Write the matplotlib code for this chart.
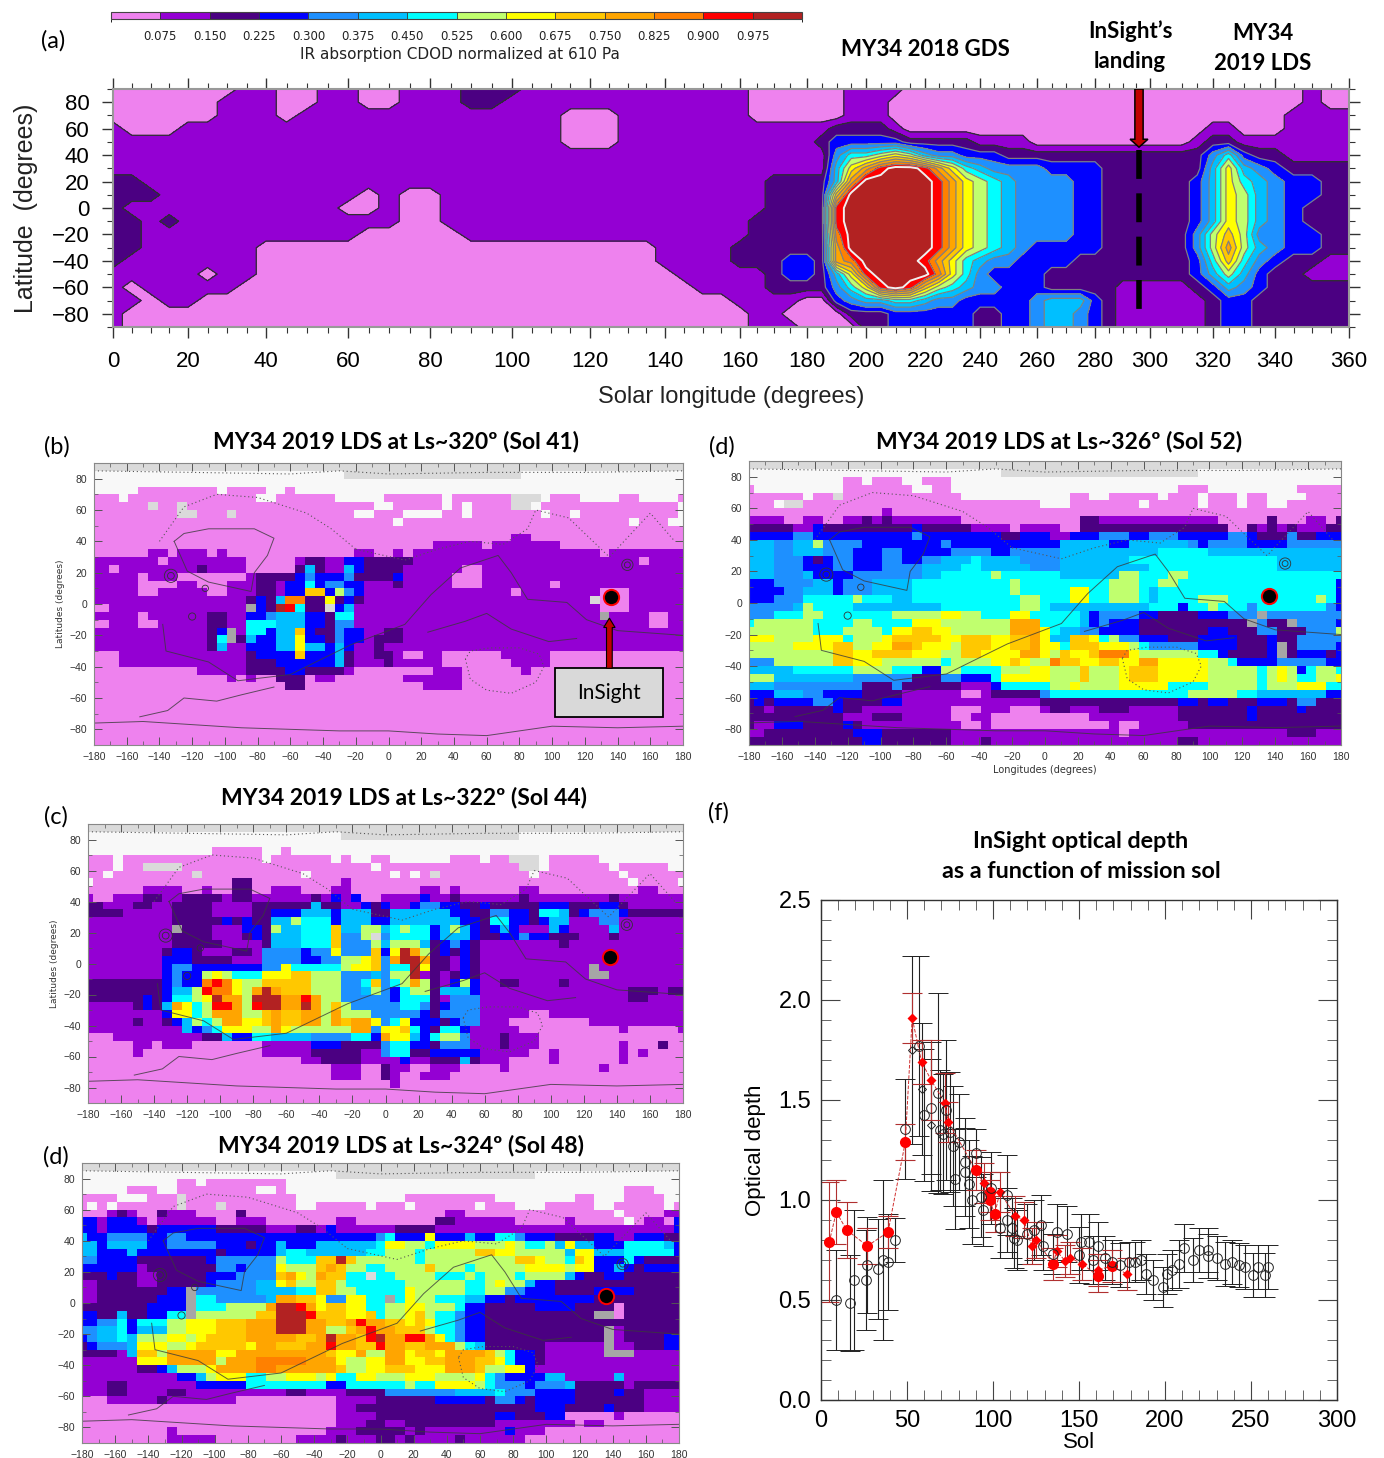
import numpy as np
import matplotlib
matplotlib.use("Agg")
import matplotlib.pyplot as plt
from matplotlib import colors, cm
from matplotlib.patches import Rectangle, FancyArrow

W, H = 1384, 1458

# colour of each dust level, lowest first, then the no data shades
level_colors = ['#EE82EE', '#9400D3', '#4B0082', '#0000FF', '#1E90FF', '#00BFFF', '#00FFFF',
                '#C0FF6E', '#FFFF00', '#FFC800', '#FFA500', '#FF8000', '#FF0000', '#B22222']
codes = '0123456789abcd.lg'
nodata_colors = ['#F8F8F8', '#DADADA', '#A6A6A6']
cdod_levels = np.arange(0, 1.0501, 0.075)

# tick positions of panel (a): the axis is not linear in Ls
ls_ticks = [0, 20, 40, 60, 80, 100, 120, 140, 160, 180, 200, 220, 240, 260, 280, 300, 320, 340, 360]
ls_tick_pos = [113, 188, 266, 348, 430, 512, 590, 665, 740, 807, 866, 925, 980, 1037, 1095, 1150, 1213, 1275, 1349]

# Zonal mean rows, 90N to 90S by 10 deg. Each token: level + index of first Ls bin (5 deg bins)
zonal_rows = [
    "00 17 09 111 013 115 218 121 033 139 043 170 071",
    "00 16 09 111 013 115 218 120 033 139 042 170 071",
    "00 16 09 110 023 126 033 139 042 169",
    "10 01 14 023 126 238 142 043 164 066 169",
    "10 023 126 237 338 341 243 148 052 163 264 166",
    "10 438 639 741 842 743 544 445 347 250 464 665 366 267 169",
    "10 538 839 a40 c41 d42 c44 a45 846 647 548 449 353 257 564 865 566 467 368 269",
    "20 12 234 538 a39 d40 c45 a46 847 748 649 550 451 355 257 363 564 865 666 567 468 369 271",
    "20 13 013 114 015 117 234 938 d39 c45 a46 847 748 649 550 451 355 257 363 564 865 766 567 468 369 370 271",
    "20 11 012 114 015 117 234 c38 d39 c45 a46 847 748 649 550 451 355 257 363 564 865 766 567 468 369 270",
    "20 12 23 14 015 117 233 c38 d39 c45 a46 847 748 649 550 451 355 257 363 564 865 766 567 468 369 270",
    "20 12 013 118 233 b38 d39 c45 a46 847 748 649 550 451 355 257 263 463 764 965 766 467 369 271",
    "20 12 08 128 232 a38 d39 c45 a46 847 748 649 550 451 352 355 257 463 764 a65 766 567 468 369 271",
    "20 11 08 128 232 335 237 a38 b39 d40 c44 a45 846 647 548 449 351 255 363 664 965 666 467 368 269 171",
    "10 05 16 08 129 234 335 237 538 839 c40 d41 b45 846 647 448 349 253 363 564 765 566 367 268 170",
    "10 01 12 07 130 234 438 639 840 c41 d42 c43 944 745 646 547 448 350 253 158 263 364 565 466 367 268",
    "10 02 13 05 132 036 338 439 540 642 544 445 347 452 553 356 257 158 264 365 267",
    "10 01 133 035 239 342 248 350 452 553 455 356 257 158 264 365 267",
    "10 01 133 036 240 342 248 350 452 553 455 356 257 158 264 365 267",
]

# Maps: 36 rows from 90N, 5 deg each. Token: level + index of first cell, cells 6 deg wide from 180W
map_sol41 = [
    "l0", ".0 l26 .44", ".0",
    ".0 05 .13 014 .18 020 .21",
    "00 .3 04 .17 019 .25 030 .36 037 l43 .46 047 .50 054 .56 060",
    "00 l6 07 l9 010 .29 031 .36 037 .38 039 l43 .45 046 .60",
    "00 l9 011 l14 015 .27 029 .32 036 .38 039 .46 047 .49 050 .60",
    "00 .31 032 .55 056 .59", "00",
    "00 143 045",
    "00 135 040 141 048",
    "00 16 08 19 012 113 014 127 029 131 032 133 052 153",
    "10 07 18 016 121 222 124 326 228 133 056 157",
    "10 02 13 211 112 016 221 522 223 124 526 327 228 132 038 140",
    "10 05 16 09 011 116 217 321 422 323 426 227 331 132 037 140",
    "10 05 07 19 011 012 114 217 119 320 622 323 424 326 128 231 132 037 140 047 148",
    "10 05 17 012 114 217 119 320 922 324 725 426 327 128 043 144 052 155",
    "10 216 317 218 519 b20 222 824 225 326 227 128 l51 052 155",
    "00 12 g16 317 218 d19 c20 621 222 l24 325 526 127 052 155",
    "10 05 16 212 114 316 418 519 322 224 625 127 g52 153 057 159",
    "00 12 05 17 212 114 616 519 322 224 425 127 057 159",
    "10 212 313 g14 115 616 318 519 921 322 223 425 326 128 230 132",
    "10 212 613 g14 215 516 317 519 821 322 224 425 326 128 229 132",
    "10 212 513 114 316 519 821 522 324 525 326 127 229 130",
    "00 13 216 317 921 322 525 226 127 229 131 032 134 036 142 047",
    "00 13 216 319 525 226 127 230 131 036 143 047",
    "00 111 216 320 222 126 027 135 038 144 045",
    "00 114 015 116 017 219 022 123 025 132 038",
    "00 220 022 134 038",
    "00", "00", "00", "00", "00", "00", "00",
]

map_sol44 = [
    "l0", ".0 l26 .44", ".0",
    ".0 013 .18 020 .21",
    "00 .3 04 .18 019 .25 026 .27 029 .31 037 .40 041 l43 .46 047 .52",
    "00 .3 04 l6 010 .29 030 l44 .46 047 .53 054 .59",
    "00 .2 03 l11 012 .22 023 .31 032 .33 034 l35 036 .45 046 .54 055",
    ".0 01 215 017 126 027 .55 056 .60",
    "00 16 010 112 013 215 017 119 022 125 027 134 036 137 038 144 046 156 058",
    "10 01 13 26 18 210 114 215 117 223 124 325 126 327 028 130 334 135 237 138 244 145 253 154",
    "20 12 25 17 29 113 217 523 224 126 328 229 330 131 333 434 336 238 340 241 346 249 352 254 155",
    "20 14 29 113 217 319 522 325 526 229 531 337 239 441 343 245 646 548 249 350 451 354 255",
    "10 29 314 215 316 217 519 721 622 325 526 329 531 338 240 641 343 245 346 547 149 452 154",
    "10 g9 210 113 316 218 719 520 622 925 526 728 530 631 732 633 335 536 737 538 339 240 341 542 343 144 547 348 149 553 154",
    "10 29 113 216 317 218 519 622 925 426 728 l29 430 631 335 536 339 240 342 444 345 247 150 253 154",
    "10 29 212 114 218 519 622 925 426 729 530 731 534 235 336 437 338 239 140 248 149",
    "10 28 39 211 112 215 117 418 322 423 825 426 929 330 831 d32 a33 734 235 336 237 338 239 140",
    "10 38 211 115 418 322 424 726 828 929 430 a31 d32 a34 235 137 338 239 140",
    "10 38 49 311 418 820 621 726 827 929 430 631 d33 834 235 137 338 239 140 g51 152",
    "10 38 49 310 712 813 714 615 818 921 723 426 529 430 731 d33 134 235 136 237 338 239 140 g51 153",
    "20 38 49 310 b12 c13 b14 815 716 918 723 426 628 929 430 631 732 a33 734 235 136 337 738 339 140 242 144 248 149",
    "20 38 59 711 c12 b13 815 716 a17 d18 a19 920 723 426 528 729 430 331 632 733 235 536 339 140 255 158 259",
    "20 36 27 38 69 711 812 d13 a14 716 d17 a20 c22 a23 724 426 331 632 235 136 437 140 255 157",
    "10 25 36 27 58 a9 810 611 712 c13 a15 716 c17 d18 a20 d22 a23 724 925 726 427 632 434 235 336 437 140",
    "10 38 89 611 712 a13 716 918 a19 920 a22 724 a25 726 429 334 235 436 140 045 147",
    "10 25 16 28 39 510 711 612 713 a14 816 918 a19 920 a22 724 a25 926 a27 829 430 631 832 333 236 337 438 140 043 151",
    "10 510 311 412 613 814 717 a19 820 721 a27 429 830 932 633 334 235 636 338 139 044 154 055 160",
    "00 13 212 514 315 617 519 423 627 329 a30 831 533 334 635 736 438 139 242 143 046",
    "00 15 07 18 011 118 323 226 228 430 631 333 235 436 438 139 242 143 046 154 055 258 059",
    "00 15 06 118 223 128 430 631 233 335 140 045 147 048 154 055 156 057",
    "00 122 224 128 332 133 235 538 239 140 043 147 048 154 055",
    "00 125 028 230 131 033 135 038 142 043 152 053",
    "00 125 028 230 131 032 134 037",
    "00 131 032", "00", "00",
]

map_sol48 = [
    "l0", ".0 l26 .46",
    ".0 010 .12 013 .21",
    ".0 05 .8 010 .18 020 .21 055 .58",
    "00 .4 07 l10 011 .22 033 .42 050 .52 055 .59",
    "00 .1 02 .3 04 l10 011 l14 015 .22 024 .29 030 .33 034 .40 041 .44 047 .52 054 .59 060",
    "00 13 24 15 06 28 19 012 216 017 137 039 .54 055 159",
    "30 12 33 16 07 18 014 116 019 126 028 236 138 044 149 050 .55 056 157 059 360",
    "30 12 33 27 38 214 119 222 124 325 126 232 136 360",
    "50 31 43 37 49 311 322 430 631 332 835 336 539 340 642 444 345 248 352 154 356 259",
    "50 32 53 37 49 314 217 318 520 321 524 630 831 733 635 836 740 843 744 645 747 548 849 550 352 655 559 360",
    "50 32 55 36 214 315 520 621 523 629 731 634 735 940 842 744 747 549 850 552 355 655 360",
    "40 32 26 313 414 720 621 924 d26 927 728 731 634 735 944 846 747 649 950 851 352 655 356 257",
    "30 16 27 414 316 417 820 721 924 a25 926 727 629 731 935 736 639 740 845 847 749 850 352 554 355 256 357",
    "20 33 24 16 28 313 416 920 a21 822 723 a24 925 627 l29 630 732 636 739 640 741 644 745 549 350 251 353 255",
    "10 22 16 28 313 414 518 820 921 722 924 726 627 733 639 741 842 743 545 346 248",
    "10 22 39 g11 412 518 622 924 726 628 833 734 639 741 443 345 248 352 256",
    "10 22 38 g11 612 414 519 a20 922 824 425 827 629 g31 632 833 734 636 539 341 243 344 252",
    "20 37 g11 612 715 519 a19 d20 c22 a23 824 925 827 629 731 833 735 638 339 241 346 250 054 255",
    "30 22 54 25 37 69 g11 712 918 d20 c23 924 827 929 630 731 833 934 735 636 438 339 241 g52 054 255",
    "30 42 64 35 66 79 811 914 a17 d20 a23 925 a27 c28 a29 931 833 934 835 636 438 339 241",
    "40 52 64 35 56 79 811 914 a17 d20 a23 725 927 a28 c29 a30 932 735 636 438 339 241 g53 154 255",
    "30 41 52 64 55 76 89 711 812 913 a17 922 a24 d25 a26 928 c29 d30 a31 c33 a35 836 637 438 339 241 g53 154 255 359",
    "20 31 42 55 86 79 811 912 817 a18 920 a23 c25 a26 928 c30 a31 933 a35 738 639 540 241 147 g53 154 256 359",
    "20 14 55 96 78 a9 814 a16 925 826 a28 729 a31 833 934 836 a37 941 742 643 344 246 147 g53 g54 156",
    "10 56 86 a9 714 a15 b18 a23 826 727 829 a31 833 935 a37 940 842 643 344 246 147",
    "10 26 38 59 710 813 a14 b18 a20 926 727 829 931 834 a37 940 741 843 345 146",
    "10 310 512 713 814 617 719 821 724 825 626 828 730 833 736 840 641 442 343 547 149 554 155",
    "10 23 15 312 617 325 627 733 634 836 740 641 442 345 446 549 250 254 155 256",
    "10 23 15 29 111 221 123 227 431 538 642 443 346 450 250 354 255 157",
    "00 13 28 19 016 126 230 336 241 442 344 245 346 250 157",
    "00 126 228 346 249 353 254 157",
    "00 126 230 342 244 347 049 154 055",
    "00 126 229 131 233 142 148 050 151 053",
    "00 19 010 125 228 330 230 133 234 135 142 343 144 047",
    "00 19 014 122 226 127 230 132 233 134 238 139 045",
]

map_sol52 = [
    "l0", ".0 l26 .46",
    ".0 010 .12 013 .16 018 .21",
    "00 .1 010 .17 019 .21 044 .47 056",
    "00 .6 07 l9 010 .22 033 .35 037 .42 043 .46 047 .50 051 .53 057",
    "00 .3 l4 06 .30 033 .40 041 .46 047 .50 051 .53 055",
    "00 114 015",
    "10 04 16 08 110 212 113 214 115 022 234 136 048 253 054 157 059 260",
    "20 15 37 28 317 218 123 027 128 032 234 049 251 152 253 154 255 156 259",
    "30 45 37 417 318 226 328 131 333 436 339 441 344 449 351 252 455 256 358",
    "50 43 55 77 48 312 420 321 532 337 539 445 346 447 351 455",
    "50 43 55 48 311 414 316 421 325 427 532 642 547",
    "50 43 36 27 38 49 311 414 316 418 520 623 524 428 532 639 554",
    "50 43 36 49 311 414 518 622 524 429 532 641 554",
    "50 43 56 37 411 518 620 725 626 532 738 640 743 645",
    "30 43 57 39 410 513 617 727 628 737 640 742 644 360",
    "30 44 56 39 410 513 617 727 628 833 635 737 640 541 642 360",
    "30 43 66 711 612 515 617 728 630 833 635 737 640 541 642 746 649 758 659 360",
    "40 55 76 67 511 620 728 630 531 641 344 645 747 648 451 652 459 360",
    "40 63 76 68 715 820 722 624 827 629 534 335 436 340 242 346 449 g52 453",
    "60 71 67 711 613 817 720 a27 630 534 335 436 337 240 g51 452 253 g55 456 360",
    "70 67 710 614 815 917 819 721 a27 830 631 532 434 336 240 347 249 452 254 457 760",
    "80 73 87 610 711 814 915 918 820 922 825 927 a29 830 531 933 835 636 737 438 340 243 346 450 250 353 254 456",
    "70 85 99 711 813 a15 917 818 721 922 825 927 a29 830 632 933 836 739 640 441 346 250 353 g54 255 456 360",
    "70 99 811 913 817 720 922 824 a28 830 731 932 833 935 b36 839 740 646 348 249 353 g54 255 356 259 360",
    "40 73 99 811 714 620 721 825 927 828 729 b31 932 834 936 838 a40 842 747 649 350 353 454 359",
    "50 65 711 615 318 720 622 726 829 731 934 735 838 939 842 747 652 753 854 755 356 657 758 660",
    "70 53 411 217 420 322 625 826 731 934 735 838 939 842 747 652 753 854 755 656 758 860",
    "50 43 212 415 216 122 325 626 731 833 734 838 643 747 652 753 856 659",
    "30 53 46 38 212 116 022 124 225 430 631 745 650 552 359",
    "20 31 22 33 47 39 210 314 116 230 344 246 347 249 352 255 456 258",
    "20 12 23 39 210 112 021 124 027 130 231 133 236 139 244 351 252 356 257",
    "20 110 213 116 021 123 025 135 244 351 252",
    "20 11 33 26 310 211 112 022 124 025 137 038 140 245",
    "10 22 311 214 121 038 139 255 158",
    "20 312 214 121 224 125 244 146",
]

# topography
alba_lon = [-131, -125, -110, -82, -70, -74, -82, -84, -110, -123, -131]
alba_lat = [40, 45, 48, 48, 42, 31, 20, 8, 14, 21, 40]
dicho_lon = [-138, -136, -110, -92, -60, -23, 10, 26, 44, 67, 75, 85, 109, 121, 140, 180]
dicho_lat = [-13, -30, -37, -49, -45, -26, -13, 6, 23, 31, 20, 3, 1, -10, -17, -20]
south_lon = [-180, -150, -120, -90, -60, -30, 0, 30, 60, 100, 140, 180]
south_lat = [-76, -75, -77, -79, -80, -81, -81, -83, -84, -78, -79, -78]
coast_lon = [-152, -135, -125, -105, -90, -70]
coast_lat = [-72, -68, -60, -62, -58, -53]
syrtis_lon = [24, 47, 60, 75, 98, 115]
syrtis_lat = [-18, -11, -6, -16, -24, -22]
dot_n_lon = [-140, -125, -105, -80, -50, -35, -20]
dot_n_lat = [40, 62, 70, 68, 58, 48, 35]
dot_e_lon = [-20, 10, 30, 50, 70, 85, 90, 110, 135, 160, 175]
dot_e_lat = [35, 28, 35, 40, 38, 48, 60, 55, 30, 58, 40]
hellas_lon = [47, 50, 60, 75, 90, 95, 92, 80, 62, 50, 47]
hellas_lat = [-35, -48, -55, -57, -50, -40, -32, -28, -28, -30, -35]
pole_lon = [-180, -120, -60, -30, 0, 60, 120, 180]
pole_lat = [85, 84, 83, 85, 83, 84, 84, 85]
volcano_lon = [-133, -133, -112, -120, 146, 146]
volcano_lat = [18, 18, 10, -8, 25, 25]
volcano_size = [150, 40, 35, 45, 110, 30]

landing_lon = 136
landing_lat = 4.5

# optical depth, black open symbols
sol_black = [8.9, 17, 19, 26, 27, 33, 36, 39, 43, 49, 57, 60, 64, 68, 69, 71, 72.5, 75, 77, 78, 80, 84, 84, 86,
             88, 90, 93, 94, 99, 104, 108, 108, 111, 112, 114, 120, 124, 128, 129, 135, 137, 143, 150, 151, 156,
             158, 161, 165, 169, 174, 179, 182.5, 186, 189, 193, 199, 201, 204, 208, 211, 216, 220, 225, 225,
             230, 235, 239, 243, 246.5, 251, 254, 258, 260]
tau_black = [.50, .487, .60, .60, .675, .657, .70, .69, .80, 1.353, 1.77, 1.425, 1.46, 1.535, 1.35, 1.33, 1.45,
             1.34, 1.27, 1.105, 1.29, 1.19, 1.14, 1.08, 1.0, 1.235, 1.015, .95, 1.06, .86, 1.025, .90, .86, .81,
             .80, .83, .85, .875, .77, .73, .84, .83, .725, .79, .79, .70, .77, .71, .69, .675, .69, .69, .70,
             .63, .60, .567, .63, .65, .68, .76, .70, .75, .75, .72, .71, .68, .69, .675, .667, .625, .667, .625,
             .667]
err_black = [.25, .24, .35, .25, .24, .25, .40, .24, .11, .25, .45, .33, .33, .50, .30, .30, .35, .30, .30, .25,
             .24, .22, .22, .22, .22, .12, .20, .18, .18, .15, .20, .16, .15, .15, .15, .15, .15, .15, .12, .10,
             .14, .14, .14, .14, .14, .12, .12, .11, .11, .11, .10, .10, .10, .10, .10, .10, .10, .10, .12, .12,
             .11, .11, .11, .11, .11, .11, .11, .11, .11, .11, .11, .11, .11]
sol_black_dia = [53, 58.5, 64]
tau_black_dia = [1.75, 1.555, 1.375]
err_black_dia = [.47, .33, .33]

# optical depth, red filled symbols
sol_red = [4.8, 8.9, 14.9, 27, 39, 49, 90, 98, 98, 101, 135, 161, 169]
tau_red = [.79, .94, .85, .77, .84, 1.29, 1.15, 1.04, 1.0, .93, .68, .62, .67]
err_red = [.30, .16, .14, .09, .08, .09, .10, .10, .10, .09, .08, .08, .08]
sol_red_dia = [53, 58.5, 64, 72, 74, 94.6, 104, 113, 118, 122.5, 125, 137, 142, 145, 152, 161, 178]
tau_red_dia = [1.91, 1.69, 1.60, 1.485, 1.39, 1.085, 1.04, .92, .90, .77, .80, .745, .695, .71, .68, .65, .63]
err_red_dia = [.125, .11, .20, .15, .10, .10, .10, .10, .09, .09, .09, .08, .08, .08, .08, .08, .08]


def decode(rows, ncol):
    grid = np.zeros((len(rows), ncol), dtype=int)
    for r, row in enumerate(rows):
        for tok in row.split():
            grid[r, int(tok[1:]):] = codes.index(tok[0])
    return grid


def px_axes(x0, y0, x1, y1):
    return fig.add_axes([x0 / W, 1 - y1 / H, (x1 - x0) / W, (y1 - y0) / H])


def ftext(x, y, s, **kw):
    kw.setdefault('ha', 'center')
    kw.setdefault('va', 'center')
    kw.setdefault('family', 'Lato')
    fig.text(x / W, 1 - y / H, s, **kw)


def draw_map(ax, rows, ylabel=None, xlabel=None, dot=True):
    grid = decode(rows, 61)
    lon_edges = np.arange(-183, 184, 6)
    lat_edges = np.arange(90, -91, -5)
    ax.pcolormesh(lon_edges, lat_edges, grid, cmap=map_cmap, vmin=-0.5, vmax=len(codes) - 0.5, rasterized=True)
    for lo, la in [(alba_lon, alba_lat), (dicho_lon, dicho_lat), (south_lon, south_lat), (coast_lon, coast_lat),
                   (syrtis_lon, syrtis_lat)]:
        ax.plot(lo, la, color='#3a3a3a', lw=0.7, alpha=0.8)
    for lo, la in [(dot_n_lon, dot_n_lat), (dot_e_lon, dot_e_lat), (hellas_lon, hellas_lat), (pole_lon, pole_lat)]:
        ax.plot(lo, la, color='#555555', lw=0.8, ls=(0, (1, 2.5)))
    ax.scatter(volcano_lon, volcano_lat, s=np.array(volcano_size) * 0.6, facecolors='none', edgecolors='#333333',
               linewidths=0.6)
    if dot:
        ax.plot([landing_lon], [landing_lat], 'o', ms=11, mfc='black', mec='red', mew=1.4)
    ax.set_xlim(-180, 180)
    ax.set_ylim(-90, 90)
    ax.set_xticks(np.arange(-180, 181, 20))
    ax.set_yticks(np.arange(-80, 81, 20))
    ax.set_xticks(np.arange(-180, 181, 10), minor=True)
    ax.set_yticks(np.arange(-90, 91, 10), minor=True)
    ax.tick_params(which='major', direction='in', top=True, right=True, length=6, width=0.7, color='#555555',
                   labelsize=7.5, labelcolor='#333333', pad=5)
    ax.tick_params(which='minor', direction='in', top=True, right=True, length=3, width=0.5, color='#555555')
    for s in ax.spines.values():
        s.set_color('#888888')
        s.set_linewidth(0.8)
    if ylabel:
        ax.set_ylabel(ylabel, fontsize=6.5, color='#333333', labelpad=3, family='DejaVu Sans')
    if xlabel:
        ax.set_xlabel(xlabel, fontsize=7, color='#333333', labelpad=2, family='DejaVu Sans')


fig = plt.figure(figsize=(W / 100, H / 100), dpi=100, facecolor='white')
plt.rcParams['font.family'] = ['Liberation Sans', 'DejaVu Sans']

map_cmap = colors.ListedColormap(level_colors + nodata_colors)

# colour bar
norm = colors.BoundaryNorm(cdod_levels, 14)
sm = cm.ScalarMappable(norm=norm, cmap=colors.ListedColormap(level_colors))
cax = px_axes(111, 12, 802, 19)
cb = fig.colorbar(sm, cax=cax, orientation='horizontal', ticks=cdod_levels[1:-1], drawedges=True)
cb.ax.set_xticklabels(['%.3f' % v for v in cdod_levels[1:-1]], fontsize=8.5, color='#222222', family='DejaVu Sans')
cb.ax.tick_params(length=0, pad=8)
cb.dividers.set_color('#333333')
cb.dividers.set_linewidth(0.6)
cb.outline.set_edgecolor('#444444')
ftext(460, 55, 'IR absorption CDOD normalized at 610 Pa', fontsize=11, family='DejaVu Sans', color='#222222')

# panel a
ax_a = px_axes(113, 89, 1349, 327)
frac = (np.array(ls_tick_pos) - 113) / (1349 - 113) * 360
ax_a.set_xscale('function', functions=(lambda v: np.interp(v, ls_ticks, frac), lambda v: np.interp(v, frac, ls_ticks)))
zonal_lev = decode(zonal_rows, 73).astype(float)
zonal_val = 0.0375 + 0.075 * zonal_lev
zonal_ls = np.arange(0, 361, 5)
zonal_lat = np.arange(90, -91, -10)
ax_a.contourf(zonal_ls, zonal_lat, zonal_val, levels=cdod_levels, colors=level_colors, extend='neither')
ax_a.contour(zonal_ls, zonal_lat, zonal_val, levels=cdod_levels[1:3], colors='#303030', linewidths=0.9)
ax_a.contour(zonal_ls, zonal_lat, zonal_val, levels=cdod_levels[3:13], colors='#808080', linewidths=0.9)
ax_a.contour(zonal_ls, zonal_lat, zonal_val, levels=cdod_levels[13:14], colors='#f0f0f0', linewidths=1.4)
ax_a.plot([296, 296], [44, -86], color='black', lw=4, ls=(0, (5.2, 2.6)))
ax_a.add_patch(FancyArrow(296, 90, 0, -44, width=3, head_width=6.5, head_length=6, length_includes_head=True,
                          facecolor='#C00000', edgecolor='black', lw=1.1, zorder=5))
ax_a.set_xlim(0, 360)
ax_a.set_ylim(-90, 90)
ax_a.set_xticks(ls_ticks)
ax_a.set_yticks(np.arange(-80, 81, 20))
ax_a.set_xticks(np.arange(0, 361, 5), minor=True)
ax_a.set_yticks(np.arange(-90, 91, 10), minor=True)
ax_a.tick_params(which='major', direction='out', top=True, right=True, left=True, length=8, width=1, color='#333333',
                 labelsize=16, pad=9)
ax_a.tick_params(which='minor', direction='out', top=True, right=True, length=4, width=0.8, color='#333333')
for s in ax_a.spines.values():
    s.set_color('#999999')
    s.set_linewidth(1.5)
ax_a.set_xlabel('Solar longitude (degrees)', fontsize=17, labelpad=10, color='#222222')
ax_a.set_ylabel('Latitude  (degrees)', fontsize=18, labelpad=10, color='#222222')

ftext(53, 41, '(a)', fontsize=17)
ftext(925, 49, 'MY34 2018 GDS', fontsize=16, weight='bold')
ftext(1130, 31, 'InSight\u2019s', fontsize=16, weight='bold')
ftext(1130, 61, 'landing', fontsize=16, weight='bold')
ftext(1263, 34, 'MY34', fontsize=16, weight='bold')
ftext(1263, 64, '2019 LDS', fontsize=16, weight='bold')

# map panels
ax_b = px_axes(94, 463, 683, 745)
draw_map(ax_b, map_sol41, ylabel='Latitudes (degrees)')
ax_b.add_patch(Rectangle((102, -72), 66, 31, facecolor='#D9D9D9', edgecolor='black', lw=1.3, zorder=6))
ax_b.text(135, -56.5, 'InSight', ha='center', va='center', fontsize=15, family='Lato', zorder=7)
ax_b.add_patch(FancyArrow(135, -41, 0, 32, width=3.5, head_width=7, head_length=6, length_includes_head=True,
                          facecolor='#C00000', edgecolor='black', lw=0.8, zorder=6))
ftext(57, 447, '(b)', fontsize=17)
ftext(396, 441, 'MY34 2019 LDS at Ls~320º (Sol 41)', fontsize=16.5, weight='bold')

ax_e = px_axes(749, 461, 1341, 745)
draw_map(ax_e, map_sol52, xlabel='Longitudes (degrees)')
ftext(722, 447, '(d)', fontsize=17)
ftext(1059, 442, 'MY34 2019 LDS at Ls~326º (Sol 52)', fontsize=16.5, weight='bold')

ax_c = px_axes(88, 824, 683, 1103)
draw_map(ax_c, map_sol44, ylabel='Latitudes (degrees)')
ftext(56, 817, '(c)', fontsize=17)
ftext(404, 797, 'MY34 2019 LDS at Ls~322º (Sol 44)', fontsize=16.5, weight='bold')

ax_d = px_axes(82, 1163, 679, 1443)
draw_map(ax_d, map_sol48)
ftext(56, 1157, '(d)', fontsize=17)
ftext(401, 1145, 'MY34 2019 LDS at Ls~324º (Sol 48)', fontsize=16.5, weight='bold')

# panel f
ax_f = px_axes(821, 900, 1337, 1400)
ax_f.errorbar(sol_black, tau_black, yerr=err_black, fmt='o', ms=7, mfc='none', mec='#222222', mew=0.7,
              ecolor='#222222', elinewidth=0.8, capsize=7.5, capthick=0.8)
ax_f.errorbar(sol_black_dia, tau_black_dia, yerr=err_black_dia, fmt='D', ms=4.5, mfc='none', mec='#222222', mew=0.7,
              ecolor='#222222', elinewidth=0.8, capsize=7.5, capthick=0.8)
ax_f.errorbar(sol_red, tau_red, yerr=err_red, fmt='none', ecolor='#B03030', elinewidth=0.8, capsize=7.5, capthick=0.8)
ax_f.errorbar(sol_red_dia, tau_red_dia, yerr=err_red_dia, fmt='none', ecolor='#B03030', elinewidth=0.8, capsize=7.5,
              capthick=0.8)
red_x = np.array(sol_red + sol_red_dia)
red_y = np.array(tau_red + tau_red_dia)
order = np.argsort(red_x, kind='stable')
ax_f.plot(red_x[order], red_y[order], color='#D03030', lw=0.7, ls='--')
ax_f.plot(sol_red, tau_red, 'o', ms=8, color='#FF0000', mec='none')
ax_f.plot(sol_red_dia, tau_red_dia, 'D', ms=5, color='#FF0000', mec='none')
ax_f.set_xlim(0, 300)
ax_f.set_ylim(0, 2.5)
ax_f.set_xticks(np.arange(0, 301, 50))
ax_f.set_yticks(np.arange(0, 2.51, 0.5))
ax_f.set_xticklabels(['0', '50', '100', '150', '200', '250', '300'])
ax_f.set_yticklabels(['0.0', '0.5', '1.0', '1.5', '2.0', '2.5'])
ax_f.set_xticks(np.arange(0, 301, 10), minor=True)
ax_f.set_yticks(np.arange(0, 2.51, 0.1), minor=True)
ax_f.tick_params(which='major', direction='in', top=True, right=True, length=14, width=0.8, color='#444444',
                 labelsize=17, pad=7)
ax_f.tick_params(which='minor', direction='in', top=True, right=True, length=7.5, width=0.7, color='#666666')
for s in ax_f.spines.values():
    s.set_color('#333333')
    s.set_linewidth(1)
ax_f.set_xlabel('Sol', fontsize=16, labelpad=0)
ax_f.set_ylabel('Optical depth', fontsize=16, labelpad=9)
ftext(718, 813, '(f)', fontsize=17)
ftext(1081, 841, 'InSight optical depth', fontsize=16.8, weight='bold')
ftext(1081, 871, 'as a function of mission sol', fontsize=16.8, weight='bold')

fig.savefig('out.png', dpi=100)
